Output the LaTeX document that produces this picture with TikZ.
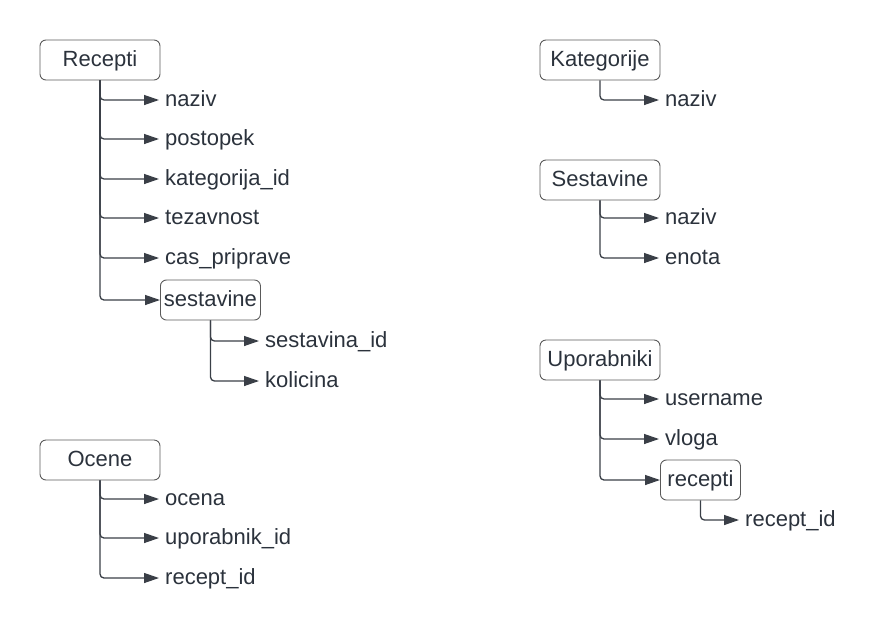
\documentclass[tikz,border=0pt]{standalone}
\usepackage{fontspec}
\setmainfont{Liberation Sans}
\usetikzlibrary{arrows.meta}
\definecolor{txt}{HTML}{2B323C}
\definecolor{ln}{HTML}{3A3F47}
\definecolor{bd}{HTML}{5A5A5A}
\begin{document}
\begin{tikzpicture}[x=1pt,y=-1pt,
  every node/.style={font=\fontsize{22pt}{24pt}\selectfont, text=txt},
  ent/.style={draw=bd, line width=0.9pt, rounded corners=6pt, minimum height=40pt, inner sep=0pt, text height=16pt, text depth=4pt},
  attr/.style={anchor=west, inner xsep=6pt, inner ysep=0pt, text height=16pt, text depth=4pt},
  conn/.style={draw=ln, line width=1.3pt, rounded corners=4pt, -{Triangle[length=15pt,width=10pt]}}]
\useasboundingbox (0,0) rectangle (880,640);

% Recepti
\node[ent, minimum width=120pt] (rec) at (100,60) {Recepti};
\node[attr] (r1) at (159,100) {naziv};
\node[attr] (r2) at (159,139) {postopek};
\node[attr] (r3) at (159,179) {kategorija\_id};
\node[attr] (r4) at (159,218) {tezavnost};
\node[attr] (r5) at (159,258) {cas\_priprave};
\node[ent, minimum width=100pt, anchor=west] (rs) at (160,300) {sestavine};
\node[attr] (rs1) at (259,341) {sestavina\_id};
\node[attr] (rs2) at (259,381) {kolicina};
\foreach \t in {r1,r2,r3,r4,r5,rs} \draw[conn] (rec.south) |- (\t.west);
\foreach \t in {rs1,rs2} \draw[conn] (rs.south) |- (\t.west);

% Ocene
\node[ent, minimum width=120pt] (oc) at (100,460) {Ocene};
\node[attr] (o1) at (159,499) {ocena};
\node[attr] (o2) at (159,538) {uporabnik\_id};
\node[attr] (o3) at (159,578) {recept\_id};
\foreach \t in {o1,o2,o3} \draw[conn] (oc.south) |- (\t.west);

% Kategorije
\node[ent, minimum width=120pt] (kat) at (600,60) {Kategorije};
\node[attr] (k1) at (659,100) {naziv};
\draw[conn] (kat.south) |- (k1.west);

% Sestavine
\node[ent, minimum width=120pt] (ses) at (600,180) {Sestavine};
\node[attr] (s1) at (659,218) {naziv};
\node[attr] (s2) at (659,258) {enota};
\foreach \t in {s1,s2} \draw[conn] (ses.south) |- (\t.west);

% Uporabniki
\node[ent, minimum width=120pt] (up) at (600,360) {Uporabniki};
\node[attr] (u1) at (659,399) {username};
\node[attr] (u2) at (659,439) {vloga};
\node[ent, minimum width=80pt, anchor=west] (ur) at (660,480) {recepti};
\node[attr] (ur1) at (739,520) {recept\_id};
\foreach \t in {u1,u2,ur} \draw[conn] (up.south) |- (\t.west);
\draw[conn] (ur.south) |- (ur1.west);
\end{tikzpicture}
\end{document}
